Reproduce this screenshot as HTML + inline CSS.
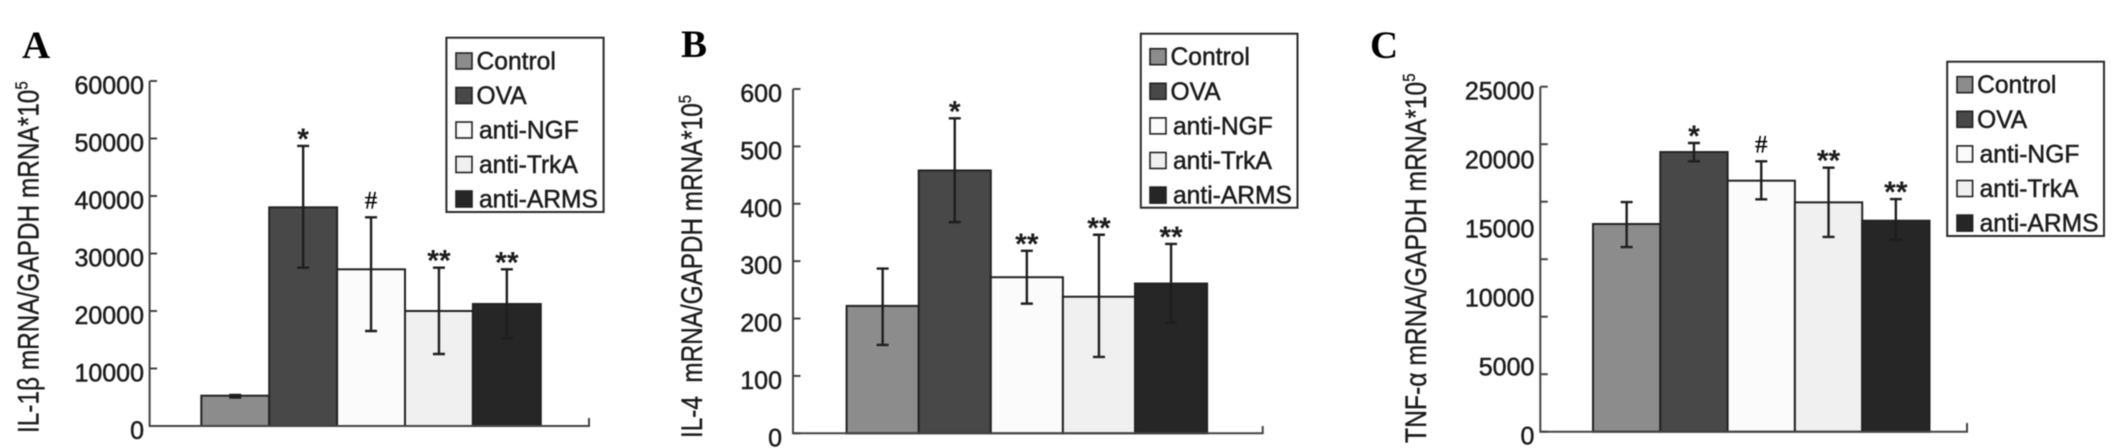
<!DOCTYPE html>
<html lang="en">
<head>
<meta charset="utf-8">
<title>Cytokine mRNA bar charts</title>
<style>
  html, body { margin: 0; padding: 0; background: #fff; }
  body { width: 2126px; height: 448px; overflow: hidden; }
  svg { display: block; filter: blur(0.4px); }
  text { font-family: "Liberation Sans", "DejaVu Sans", sans-serif; fill: #1c1c1c; }
  .letter { font-family: "Liberation Serif", serif; font-weight: bold; font-size: 39px; fill: #000; }
  .tick { font-size: 25px; stroke: #1c1c1c; stroke-width: 0.5px; }
  .title { stroke: #1c1c1c; stroke-width: 0.3px; }
  .legend-label { font-size: 24.6px; stroke: #1c1c1c; stroke-width: 0.5px; }
  .star { font-size: 30px; font-weight: bold; }
  .hash { font-family: "Liberation Serif", serif; font-size: 25px; fill: #000; stroke: #000; stroke-width: 0.3px; }
</style>
</head>
<body>
<svg id="figure" xmlns="http://www.w3.org/2000/svg" width="2126" height="448" viewBox="0 0 2126 448"></svg>
<script>
// ---- Data ----
const categories = ['Control', 'OVA', 'anti-NGF', 'anti-TrkA', 'anti-ARMS'];

const tickLabelsA = [0, 10000, 20000, 30000, 40000, 50000, 60000];
const tickMarksA = [0, 10000, 20000, 30000, 40000, 50000, 60000];
const valuesA = [5270, 38030, 27250, 20000, 21220];
const errHighA = [5400, 48700, 36300, 27530, 27250];
const errLowA = [4950, 27530, 16520, 12520, 15300];
const annotationsA = ['', '*', '#', '**', '**'];

const tickLabelsB = [0, 100, 200, 300, 400, 500, 600];
const tickMarksB = [0, 100, 200, 300, 400, 500, 600];
const valuesB = [222, 458, 272, 238, 261];
const errHighB = [287, 549, 318, 346, 330];
const errLowB = [154, 368, 226, 133, 193];
const annotationsB = ['', '*', '**', '**', '**'];

const tickLabelsC = [0, 5000, 10000, 15000, 20000, 25000];
const tickMarksC = [0, 4167, 8333, 12500, 16667, 20833, 25000];
const valuesC = [15050, 20265, 18190, 16620, 15290];
const errHighC = [16640, 20920, 19590, 19130, 16860];
const errLowC = [13380, 19590, 16840, 14110, 13910];
const annotationsC = ['', '*', '#', '**', '**'];

// ---- Layout (not data) ----
const fills = ['#8c8c8c', '#484848', '#fbfbfb', '#f0f0f0', '#262626'];
const panels = [
  { key: 'a', letter: 'A', letterX: 22, letterY: 58, left: 149.6, right: 589, top: 81, bottom: 426, endTick: 418,
    maxValue: 60000, barStart: 201.3, barWidth: 67.9, labelRight: 144,
    titleX: 38.5, titleY: 433, titleFont: 24.4, titleText: 'IL-1β mRNA/GAPDH mRNA*10',
    legend: { x: 446.4, y: 37.7, w: 157.2, h: 174.3, swatchX: 456, swatchY: 53, swatchW: 16, rowStep: 34.5 },
    ticks: tickMarksA, labels: tickLabelsA, values: valuesA, high: errHighA, low: errLowA, notes: annotationsA },
  { key: 'b', letter: 'B', letterX: 681, letterY: 57, left: 793, right: 1262.7, top: 89, bottom: 433.3, endTick: 426,
    maxValue: 600, barStart: 846.6, barWidth: 72.1, labelRight: 782,
    titleX: 702, titleY: 438, titleFont: 24.3, titleText: 'IL-4\u00A0 mRNA/GAPDH mRNA*10',
    legend: { x: 1140.8, y: 33.7, w: 156.7, h: 174, swatchX: 1150, swatchY: 48.7, swatchW: 16, rowStep: 34.6 },
    ticks: tickMarksB, labels: tickLabelsB, values: valuesB, high: errHighB, low: errLowB, notes: annotationsB },
  { key: 'c', letter: 'C', letterX: 1370, letterY: 58, left: 1540.3, right: 1967, top: 86.7, bottom: 431.7, endTick: 423,
    maxValue: 25000, barStart: 1593, barWidth: 67.3, labelRight: 1534.4,
    titleX: 1426, titleY: 443, titleFont: 24.7, titleText: 'TNF-α mRNA/GAPDH mRNA*10',
    legend: { x: 1947.2, y: 61.7, w: 156.8, h: 174.3, swatchX: 1957, swatchY: 76.7, swatchW: 15.6, rowStep: 34.6 },
    ticks: tickMarksC, labels: tickLabelsC, values: valuesC, high: errHighC, low: errLowC, notes: annotationsC }
];

// ---- Drawing ----
const SVG_NS = 'http://www.w3.org/2000/svg';
const figure = document.getElementById('figure');

function make(tag, attrs, parent) {
  const node = document.createElementNS(SVG_NS, tag);
  for (const k in attrs) node.setAttribute(k, attrs[k]);
  parent.appendChild(node);
  return node;
}

function drawPanel(p) {
  const y = v => p.bottom - (v / p.maxValue) * (p.bottom - p.top);
  const barX = i => p.barStart + i * p.barWidth;

  const group = make('g', {}, figure);
  
  

  const letter = make('text', { x: p.letterX, y: p.letterY, class: 'letter' }, group);
  letter.textContent = p.letter;
  
  

  const title = make('text', {
    x: 0, y: 0, class: 'title',
    style: 'font-size:' + p.titleFont + 'px',
    transform: 'translate(' + p.titleX + ' ' + p.titleY + ') rotate(-90) scale(1 1.2)'
  }, group);
  title.textContent = p.titleText;
  
  
  const sup = make('tspan', { dy: -9, style: 'font-size:15px' }, title);
  sup.textContent = '5';

  // bars
  p.values.forEach((v, i) => {
    const bar = make('rect', {
      x: barX(i), y: y(v), width: p.barWidth, height: p.bottom - y(v),
      fill: fills[i], stroke: '#222', 'stroke-width': 2
    }, group);
    
    
  });

  // error bars
  p.values.forEach((v, i) => {
    const cx = barX(i) + p.barWidth / 2;
    const err = make('path', {
      d: 'M' + cx + ' ' + y(p.high[i]) + 'V' + y(p.low[i]) +
         'M' + (cx - 6) + ' ' + y(p.high[i]) + 'H' + (cx + 6) +
         'M' + (cx - 6) + ' ' + y(p.low[i]) + 'H' + (cx + 6),
      fill: 'none', stroke: '#1e1e1e', 'stroke-width': 2.4
    }, group);
    
    

    const note = p.notes[i];
    if (note) {
      const isHash = note === '#';
      const mark = make('text', {
        x: cx, y: y(p.high[i]) + (isHash ? -9 : 3),
        'text-anchor': 'middle', class: isHash ? 'hash' : 'star'
      }, group);
      mark.textContent = note;
      
      
    }
  });

  // axes
  const axis = make('path', {
    d: 'M' + p.left + ' ' + p.top + 'V' + p.bottom + 'H' + p.right + 'V' + p.endTick,
    fill: 'none', stroke: '#444', 'stroke-width': 2
  }, group);
  
  

  p.ticks.forEach(t => {
    const tick = make('line', {
      x1: p.left, x2: p.left + 7.5, y1: y(t), y2: y(t), stroke: '#444', 'stroke-width': 2
    }, group);
    
    
  });

  p.labels.forEach(t => {
    const label = make('text', {
      x: p.labelRight, y: y(t) + 13, 'text-anchor': 'end', class: 'tick'
    }, group);
    label.textContent = String(t);
    
    
  });

  // legend
  const lg = p.legend;
  const legend = make('g', {}, group);
  
  

  const box = make('rect', {
    x: lg.x, y: lg.y, width: lg.w, height: lg.h, fill: '#fff', stroke: '#2a2a2a', 'stroke-width': 2
  }, legend);
  
  

  categories.forEach((c, i) => {
    const rowY = lg.swatchY + i * lg.rowStep;
    const swatch = make('rect', {
      x: lg.swatchX, y: rowY, width: lg.swatchW, height: 16,
      fill: fills[i], stroke: '#222', 'stroke-width': 1.6
    }, legend);
    
    

    const text = make('text', {
      x: lg.swatchX + lg.swatchW + (i < 2 ? 4.5 : 7), y: rowY + 16.5, class: 'legend-label'
    }, legend);
    text.textContent = c;
    
    
  });
}

panels.forEach(drawPanel);
</script>
</body>
</html>
